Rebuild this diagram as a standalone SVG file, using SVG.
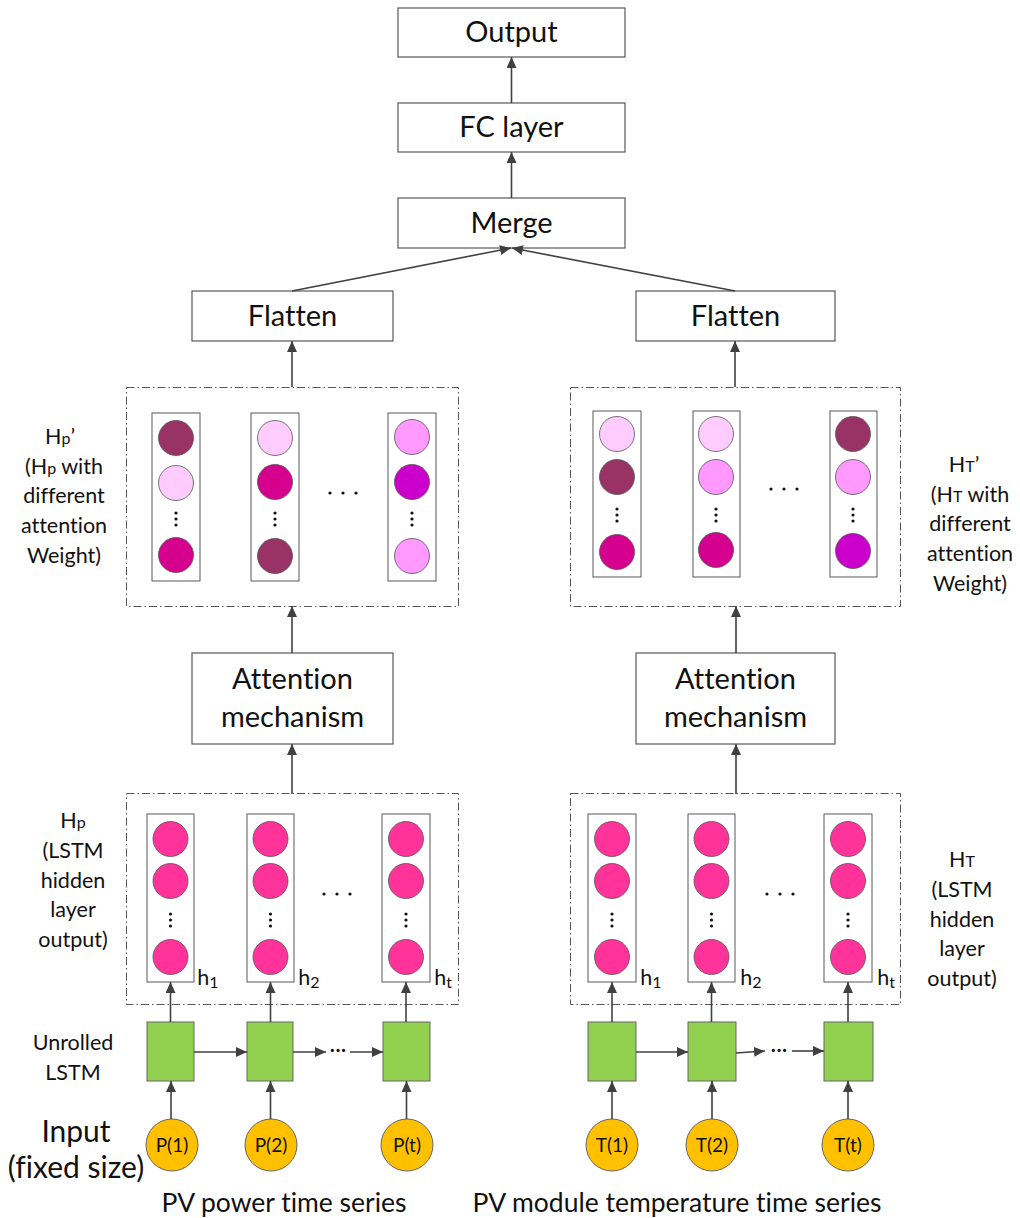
<svg xmlns="http://www.w3.org/2000/svg" width="1020" height="1218" viewBox="0 0 1020 1218">
<style>
text{font-family:Lato,"Open Sans","Liberation Sans",sans-serif;fill:#111;text-anchor:middle;font-variant-ligatures:none}
.box{fill:#fff;stroke:#595959;stroke-width:1.2}
.big{font-size:29px}
.lbl{font-size:21.5px}
.sub{font-size:16px}
.dash{fill:none;stroke:#555;stroke-width:1;stroke-dasharray:8,3,1.5,3}
.col{fill:#fff;stroke:#595959;stroke-width:1}
.c{stroke:#555;stroke-width:0.8}
.hid{fill:#FF3399}
.dk{fill:#993366}.lt{fill:#FFCCFF}.mg{fill:#D6008F}.pk{fill:#FF99FF}.vi{fill:#CC00CC}
.lstm{fill:#92D050;stroke:#666;stroke-width:1}
.inp{fill:#FFC000;stroke:#666;stroke-width:1}
.dot{fill:#111}
.con path{fill:none;stroke:#404040;stroke-width:1.6;marker-end:url(#ah)}
</style>
<defs>
<marker id="ah" markerUnits="userSpaceOnUse" markerWidth="12" markerHeight="10" refX="11" refY="5" orient="auto">
<path d="M0,0 L11,5 L0,10 z" fill="#404040"/>
</marker>
<g id="vd"><circle cx="0" cy="-6" r="1.6" class="dot"/><circle cx="0" cy="0" r="1.6" class="dot"/><circle cx="0" cy="6" r="1.6" class="dot"/></g>
<g id="hd"><circle cx="-13" cy="0" r="1.6" class="dot"/><circle cx="0" cy="0" r="1.6" class="dot"/><circle cx="13" cy="0" r="1.6" class="dot"/></g>
</defs>
<rect width="1020" height="1218" fill="#fff"/>

<g id="output"><rect class="box" x="398" y="8" width="227" height="49"/><text class="big" x="511.5" y="42">Output</text></g>
<g id="fc"><rect class="box" x="398" y="103" width="227" height="49"/><text class="big" x="511.5" y="137">FC layer</text></g>
<g id="merge"><rect class="box" x="398" y="198" width="227" height="50"/><text class="big" x="511.5" y="233">Merge</text></g>
<g id="flattenL"><rect class="box" x="192" y="291" width="201" height="50"/><text class="big" x="292.5" y="326">Flatten</text></g>
<g id="flattenR"><rect class="box" x="636" y="291" width="199" height="50"/><text class="big" x="735.5" y="326">Flatten</text></g>

<g id="attwL">
<rect class="dash" x="126.5" y="387.5" width="332" height="219"/>
<rect class="col" x="152" y="413" width="48" height="168"/>
<circle class="c dk" cx="176" cy="438" r="17.5"/><circle class="c lt" cx="176" cy="483" r="17.5"/><use href="#vd" x="176" y="519"/><circle class="c mg" cx="176" cy="555" r="17.5"/>
<rect class="col" x="251" y="413" width="48" height="168"/>
<circle class="c lt" cx="275" cy="438" r="17.5"/><circle class="c mg" cx="275" cy="482" r="17.5"/><use href="#vd" x="275" y="519"/><circle class="c dk" cx="275" cy="556" r="17.5"/>
<rect class="col" x="388" y="413" width="48" height="168"/>
<circle class="c pk" cx="412" cy="437" r="17.5"/><circle class="c vi" cx="412" cy="482" r="17.5"/><use href="#vd" x="412" y="519"/><circle class="c pk" cx="412" cy="556" r="17.5"/>
<use href="#hd" x="343" y="493"/>
</g>
<g id="attwR">
<rect class="dash" x="570.5" y="387.5" width="330" height="219"/>
<rect class="col" x="593" y="411" width="48" height="166"/>
<circle class="c lt" cx="617" cy="434" r="17.5"/><circle class="c dk" cx="617" cy="477" r="17.5"/><use href="#vd" x="617" y="515"/><circle class="c mg" cx="617" cy="552" r="17.5"/>
<rect class="col" x="693" y="411" width="47" height="166"/>
<circle class="c lt" cx="716" cy="434" r="17.5"/><circle class="c pk" cx="716" cy="477" r="17.5"/><use href="#vd" x="716" y="515"/><circle class="c mg" cx="716" cy="550" r="17.5"/>
<rect class="col" x="830" y="411" width="47" height="166"/>
<circle class="c dk" cx="853" cy="434" r="17.5"/><circle class="c pk" cx="853" cy="477" r="17.5"/><use href="#vd" x="853" y="515"/><circle class="c vi" cx="853" cy="551" r="17.5"/>
<use href="#hd" x="784" y="489"/>
</g>
<g id="labelHp2">
<text class="lbl" x="60" y="444">H<tspan class="sub">p</tspan>’</text>
<text class="lbl" x="64" y="474">(H<tspan class="sub">p</tspan> with</text>
<text class="lbl" x="64" y="503">different</text>
<text class="lbl" x="64" y="533">attention</text>
<text class="lbl" x="64" y="563">Weight)</text>
</g>
<g id="labelHT2">
<text class="lbl" x="964" y="472">H<tspan class="sub">T</tspan>’</text>
<text class="lbl" x="970" y="502">(H<tspan class="sub">T</tspan> with</text>
<text class="lbl" x="970" y="531">different</text>
<text class="lbl" x="970" y="561">attention</text>
<text class="lbl" x="970" y="591">Weight)</text>
</g>

<g id="attL"><rect class="box" x="192" y="653" width="201" height="91"/><text class="big" x="292.5" y="689">Attention</text><text class="big" x="292.5" y="727">mechanism</text></g>
<g id="attR"><rect class="box" x="636" y="653" width="199" height="91"/><text class="big" x="735.5" y="689">Attention</text><text class="big" x="735.5" y="727">mechanism</text></g>

<g id="hiddenL">
<rect class="dash" x="126.5" y="793.5" width="332" height="211"/>
<rect class="col" x="147" y="814" width="47" height="168"/>
<circle class="c hid" cx="170.5" cy="839" r="17.5"/><circle class="c hid" cx="170.5" cy="881" r="17.5"/><use href="#vd" x="170.5" y="920"/><circle class="c hid" cx="170.5" cy="957" r="17.5"/>
<rect class="col" x="247" y="814" width="47" height="168"/>
<circle class="c hid" cx="270.5" cy="839" r="17.5"/><circle class="c hid" cx="270.5" cy="881" r="17.5"/><use href="#vd" x="270.5" y="920"/><circle class="c hid" cx="270.5" cy="957" r="17.5"/>
<rect class="col" x="382" y="814" width="48" height="168"/>
<circle class="c hid" cx="406" cy="839" r="17.5"/><circle class="c hid" cx="406" cy="881" r="17.5"/><use href="#vd" x="406" y="920"/><circle class="c hid" cx="406" cy="957" r="17.5"/>
<use href="#hd" x="337" y="894"/>
<text class="lbl" x="208" y="985">h<tspan class="sub" dy="3">1</tspan></text>
<text class="lbl" x="309" y="985">h<tspan class="sub" dy="3">2</tspan></text>
<text class="lbl" x="443" y="985">h<tspan class="sub" dy="3">t</tspan></text>
</g>
<g id="hiddenR">
<rect class="dash" x="570.5" y="793.5" width="330" height="211"/>
<rect class="col" x="588" y="814" width="48" height="168"/>
<circle class="c hid" cx="612" cy="839" r="17.5"/><circle class="c hid" cx="612" cy="881" r="17.5"/><use href="#vd" x="612" y="920"/><circle class="c hid" cx="612" cy="957" r="17.5"/>
<rect class="col" x="688" y="814" width="47" height="168"/>
<circle class="c hid" cx="711.5" cy="839" r="17.5"/><circle class="c hid" cx="711.5" cy="881" r="17.5"/><use href="#vd" x="711.5" y="920"/><circle class="c hid" cx="711.5" cy="957" r="17.5"/>
<rect class="col" x="824" y="814" width="48" height="168"/>
<circle class="c hid" cx="848" cy="839" r="17.5"/><circle class="c hid" cx="848" cy="881" r="17.5"/><use href="#vd" x="848" y="920"/><circle class="c hid" cx="848" cy="957" r="17.5"/>
<use href="#hd" x="780" y="894"/>
<text class="lbl" x="651" y="985">h<tspan class="sub" dy="3">1</tspan></text>
<text class="lbl" x="751" y="985">h<tspan class="sub" dy="3">2</tspan></text>
<text class="lbl" x="886" y="985">h<tspan class="sub" dy="3">t</tspan></text>
</g>
<g id="labelHp">
<text class="lbl" x="73" y="828">H<tspan class="sub">p</tspan></text>
<text class="lbl" x="73" y="858">(LSTM</text>
<text class="lbl" x="73" y="888">hidden</text>
<text class="lbl" x="73" y="917">layer</text>
<text class="lbl" x="73" y="947">output)</text>
</g>
<g id="labelHT">
<text class="lbl" x="962" y="867">H<tspan class="sub">T</tspan></text>
<text class="lbl" x="962" y="897">(LSTM</text>
<text class="lbl" x="962" y="927">hidden</text>
<text class="lbl" x="962" y="956">layer</text>
<text class="lbl" x="962" y="986">output)</text>
</g>

<g id="lstmL">
<rect class="lstm" x="147" y="1022" width="47" height="59"/>
<rect class="lstm" x="247" y="1022" width="46" height="59"/>
<rect class="lstm" x="383" y="1022" width="47" height="59"/>
<text class="lbl" x="338" y="1057">···</text>
</g>
<g id="lstmR">
<rect class="lstm" x="588" y="1022" width="48" height="59"/>
<rect class="lstm" x="688" y="1022" width="48" height="59"/>
<rect class="lstm" x="824" y="1022" width="49" height="59"/>
<text class="lbl" x="779" y="1057">···</text>
</g>
<g id="labelLSTM"><text class="lbl" x="73" y="1050">Unrolled</text><text class="lbl" x="73" y="1080">LSTM</text></g>
<g id="labelInput"><text x="76" y="1142" font-size="30">Input</text><text x="76" y="1178" font-size="30">(fixed size)</text></g>

<g id="inputsP">
<circle class="inp" cx="172" cy="1145" r="26"/><text x="172" y="1152" font-size="19">P(1)</text>
<circle class="inp" cx="271" cy="1145" r="26"/><text x="271" y="1152" font-size="19">P(2)</text>
<circle class="inp" cx="407" cy="1145" r="26"/><text x="407" y="1152" font-size="19">P(t)</text>
</g>
<g id="inputsT">
<circle class="inp" cx="612" cy="1145" r="26"/><text x="612" y="1152" font-size="19">T(1)</text>
<circle class="inp" cx="712" cy="1145" r="26"/><text x="712" y="1152" font-size="19">T(2)</text>
<circle class="inp" cx="848" cy="1145" r="26"/><text x="848" y="1152" font-size="19">T(t)</text>
</g>
<g id="captions">
<text x="284" y="1212" font-size="26.5">PV power time series</text>
<text x="677" y="1212" font-size="26.5">PV module temperature time series</text>
</g>

<g id="connectors" class="con">
<path d="M511.5,103 V57"/>
<path d="M511.5,198 V152"/>
<path d="M292,291 L511,248"/>
<path d="M735,291 L512,248"/>
<path d="M292,387 V341"/>
<path d="M735,387 V341"/>
<path d="M292,653 V606"/>
<path d="M736,653 V606"/>
<path d="M292,794 V744"/>
<path d="M736,794 V744"/>
<path d="M170.5,1022 V982"/>
<path d="M270.5,1022 V982"/>
<path d="M406,1022 V982"/>
<path d="M612,1022 V982"/>
<path d="M711.5,1022 V982"/>
<path d="M848,1022 V982"/>
<path d="M171,1119 V1081"/>
<path d="M270.5,1119 V1081"/>
<path d="M406.5,1119 V1081"/>
<path d="M612,1119 V1081"/>
<path d="M712,1119 V1081"/>
<path d="M848,1119 V1081"/>
<path d="M194,1052 H247"/>
<path d="M293,1052 H326"/>
<path d="M350,1052 H383"/>
<path d="M636,1052 H688"/>
<path d="M736,1053 L765,1051"/>
<path d="M792,1051 H824"/>
</g>
</svg>
